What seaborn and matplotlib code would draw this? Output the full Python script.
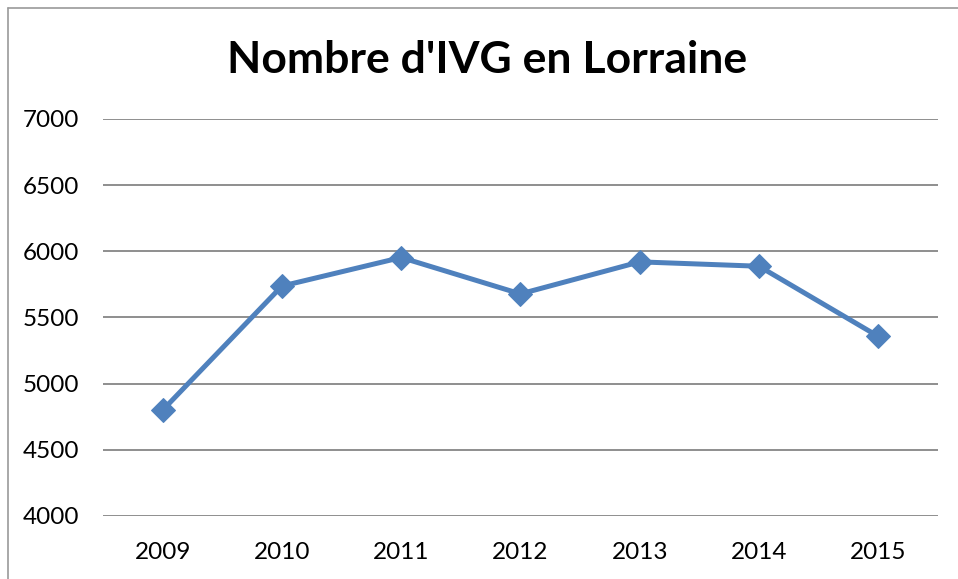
import matplotlib
matplotlib.use("Agg")
import matplotlib.pyplot as plt
import seaborn as sns
import pandas as pd
from matplotlib.lines import Line2D

# données
annees = [2009, 2010, 2011, 2012, 2013, 2014, 2015]
nb_ivg = [4799, 5737, 5953, 5678, 5920, 5887, 5357]
graduations = [4000, 4500, 5000, 5500, 6000, 6500, 7000]

df = pd.DataFrame({"annee": annees, "ivg": nb_ivg})

sns.set_style("white")
plt.rcParams["font.family"] = ["Lato", "DejaVu Sans"]
plt.rcParams["text.color"] = "black"

fig = plt.figure(figsize=(9.58, 5.79), dpi=100)
ax = fig.add_axes([0.1075, 0.109, 0.8715, 0.6855])

sns.lineplot(
    data=df, x="annee", y="ivg", ax=ax,
    color="#4F81BD", linewidth=3.6, marker="D", markersize=12,
    markeredgecolor="#4F81BD", zorder=3,
)

ax.set_ylim(4000, 7000)
ax.set_xlim(annees[0] - 0.5, annees[-1] + 0.5)
ax.set_yticks(graduations)
ax.set_xticks(annees)
ax.set_xticklabels([str(a) for a in annees])
ax.yaxis.grid(True, color="#868686", linewidth=1.3)
ax.set_axisbelow(True)
for s in ax.spines.values():
    s.set_visible(False)
ax.tick_params(axis="both", length=0, labelsize=17.5, colors="black")
ax.tick_params(axis="y", pad=17)
ax.tick_params(axis="x", pad=19)
ax.set_xlabel("")
ax.set_ylabel("")

fig.text(0.508, 0.896, "Nombre d'IVG en Lorraine", ha="center", va="center",
         fontsize=32, fontweight="bold", color="black")

# cadre du graphique (bords gauche et haut visibles)
fig.add_artist(Line2D([0.0085, 0.0085], [0.987, 0.0], transform=fig.transFigure,
                      color="#9a9a9a", linewidth=1.2))
fig.add_artist(Line2D([0.0085, 1.0], [0.987, 0.987], transform=fig.transFigure,
                      color="#9a9a9a", linewidth=1.2))

fig.savefig("out.png", dpi=100, facecolor="white")
